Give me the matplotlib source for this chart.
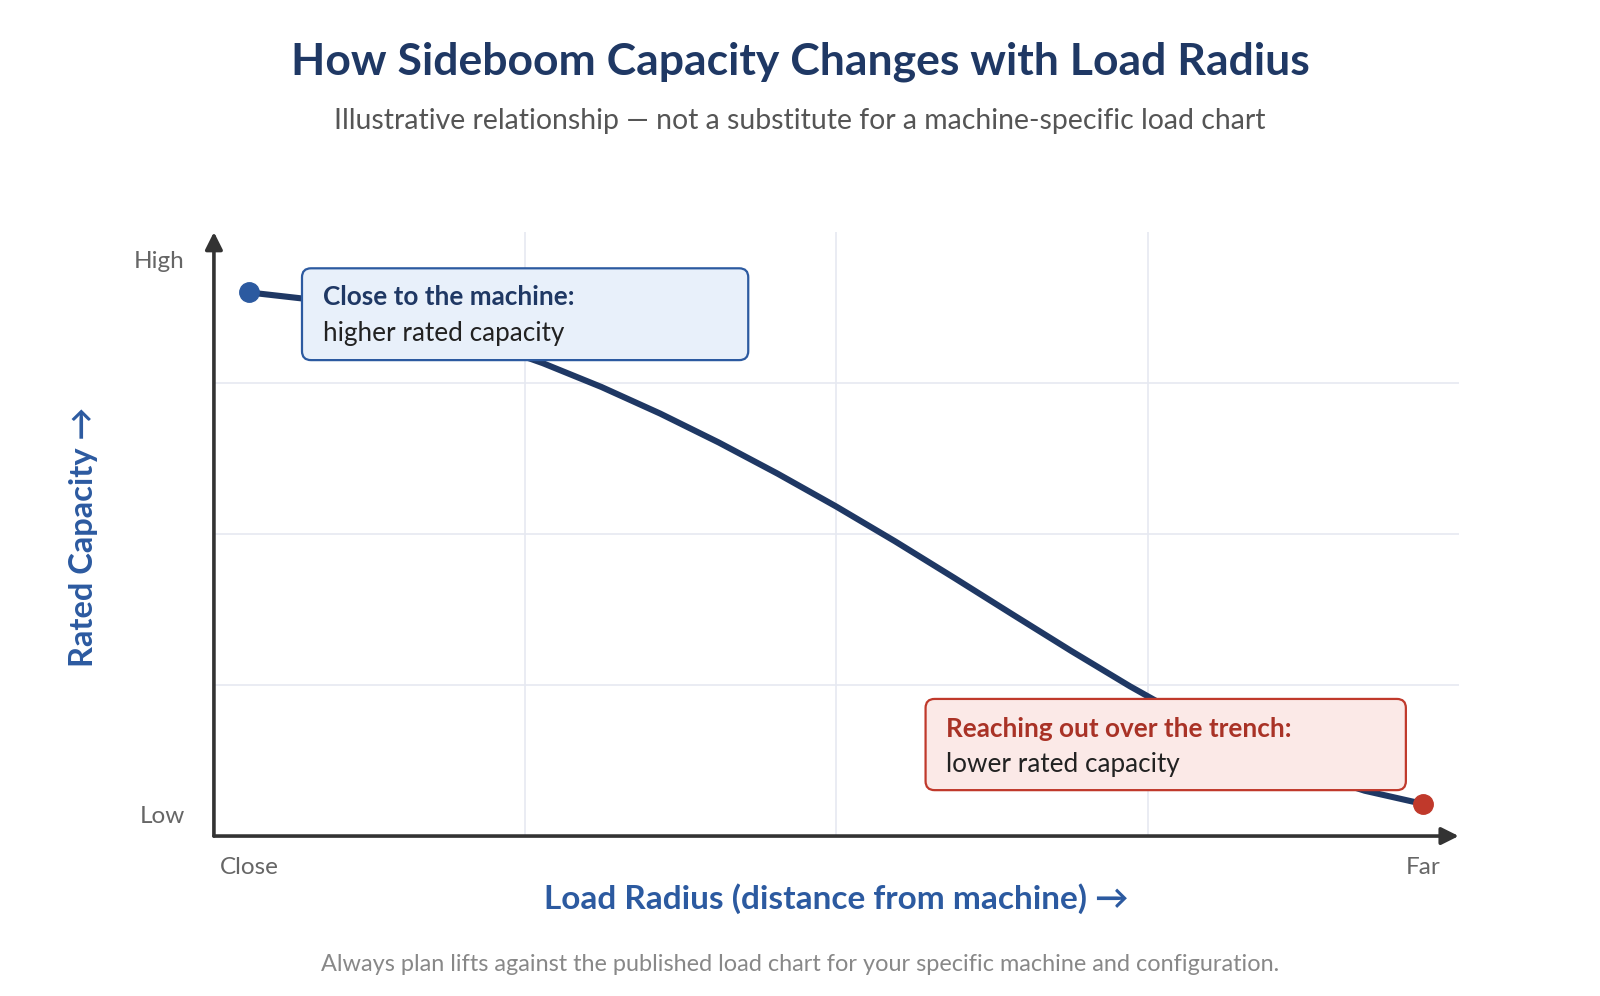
import numpy as np
import matplotlib.pyplot as plt
from matplotlib.patches import FancyBboxPatch
from matplotlib.transforms import IdentityTransform

plt.rcParams['font.family'] = ['Lato', 'DejaVu Sans']

# curve (relative units, 0 = close / low)
radius = [0, 0.5, 1, 1.5, 2, 2.5, 3, 3.5, 4, 4.5, 5,
          5.5, 6, 6.5, 7, 7.5, 8, 8.5, 9, 9.5, 10]
capacity = [90, 88.9, 87.1, 84.7, 81.75, 78.3, 74.35, 69.95, 65.15, 60.0, 54.55,
            48.8, 42.8, 36.7, 30.65, 24.8, 19.35, 14.6, 10.6, 7.5, 5.3]

x_ticks = [0, 10]
x_labels = ['Close', 'Far']
y_ticks = [3.5, 95.5]
y_labels = ['Low', 'High']

navy = '#1f3864'
blue = '#2c5aa0'
red = '#c0392b'

fig = plt.figure(figsize=(16, 9.96), dpi=100)
ax = fig.add_axes([0.1337, 0.1606, 0.778, 0.6064])
ax.set_xlim(-0.3, 10.3)
ax.set_ylim(0, 100)

# light grid at quarters
ax.set_xticks([2.35, 5.0, 7.65], minor=True)
ax.set_yticks([25, 50, 75], minor=True)
ax.grid(which='minor', color='#e6e9f1', lw=1.2)
ax.tick_params(which='minor', length=0)
ax.set_xticks(x_ticks, x_labels)
ax.set_yticks(y_ticks, y_labels)
ax.tick_params(which='major', length=0, labelsize=17.5, labelcolor='#666666')
ax.tick_params(axis='x', pad=15)
ax.tick_params(axis='y', pad=21)
for s in ax.spines.values():
    s.set_visible(False)

# axis arrows
arrow = dict(arrowstyle='-|>', lw=2.6, color='#333333', mutation_scale=26, shrinkA=0, shrinkB=0)
ax.annotate('', xy=(1, 0), xytext=(0, 0), xycoords='axes fraction', arrowprops=arrow, annotation_clip=False)
ax.annotate('', xy=(0, 1), xytext=(0, 0), xycoords='axes fraction', arrowprops=arrow, annotation_clip=False)

ax.plot(radius, capacity, color=navy, lw=4.4, solid_capstyle='round', solid_joinstyle='round', zorder=2)
ax.plot(radius[0], capacity[0], 'o', color=blue, ms=14, zorder=5, clip_on=False)
ax.plot(radius[-1], capacity[-1], 'o', color=red, ms=14, zorder=5, clip_on=False)


def callout(x0, y0, x1, y1, face, edge):
    (px0, py0), (px1, py1) = ax.transData.transform([(x0, y0), (x1, y1)])
    box = FancyBboxPatch((px0, py0), px1 - px0, py1 - py0,
                         boxstyle='round,pad=0,rounding_size=9',
                         transform=IdentityTransform(), facecolor=face,
                         edgecolor=edge, lw=1.6, zorder=3, clip_on=False)
    ax.add_artist(box)


callout(0.45, 78.8, 4.25, 94.0, '#e8f0fa', blue)
ax.text(0.63, 89.3, 'Close to the machine:', fontsize=18.8, fontweight='bold',
        color=navy, va='center', zorder=4)
ax.text(0.63, 83.2, 'higher rated capacity', fontsize=18.8, color='#222222',
        va='center', zorder=4)

callout(5.76, 7.6, 9.85, 22.7, '#fbe9e7', red)
ax.text(5.93, 17.8, 'Reaching out over the trench:', fontsize=18.8, fontweight='bold',
        color='#a93226', va='center', zorder=4)
ax.text(5.93, 11.8, 'lower rated capacity', fontsize=18.8, color='#222222',
        va='center', zorder=4)

fig.text(836.5 / 1600, 1 - 899 / 996, 'Load Radius (distance from machine) →',
         ha='center', va='center', fontsize=24, fontweight='bold', color=blue)
fig.text(84 / 1600, 1 - 537 / 996, 'Rated Capacity →', rotation=90,
         ha='center', va='center', fontsize=23.5, fontweight='bold', color=blue)

fig.text(0.5, 1 - 62 / 996, 'How Sideboom Capacity Changes with Load Radius',
         ha='center', va='center', fontsize=32, fontweight='bold', color=navy)
fig.text(0.5, 1 - 121 / 996, 'Illustrative relationship — not a substitute for a machine-specific load chart',
         ha='center', va='center', fontsize=20.4, color='#555555')
fig.text(0.5, 1 - 964 / 996, 'Always plan lifts against the published load chart for your specific machine and configuration.',
         ha='center', va='center', fontsize=16.9, color='#888888')

fig.savefig('out.png', dpi=100, facecolor='white')
